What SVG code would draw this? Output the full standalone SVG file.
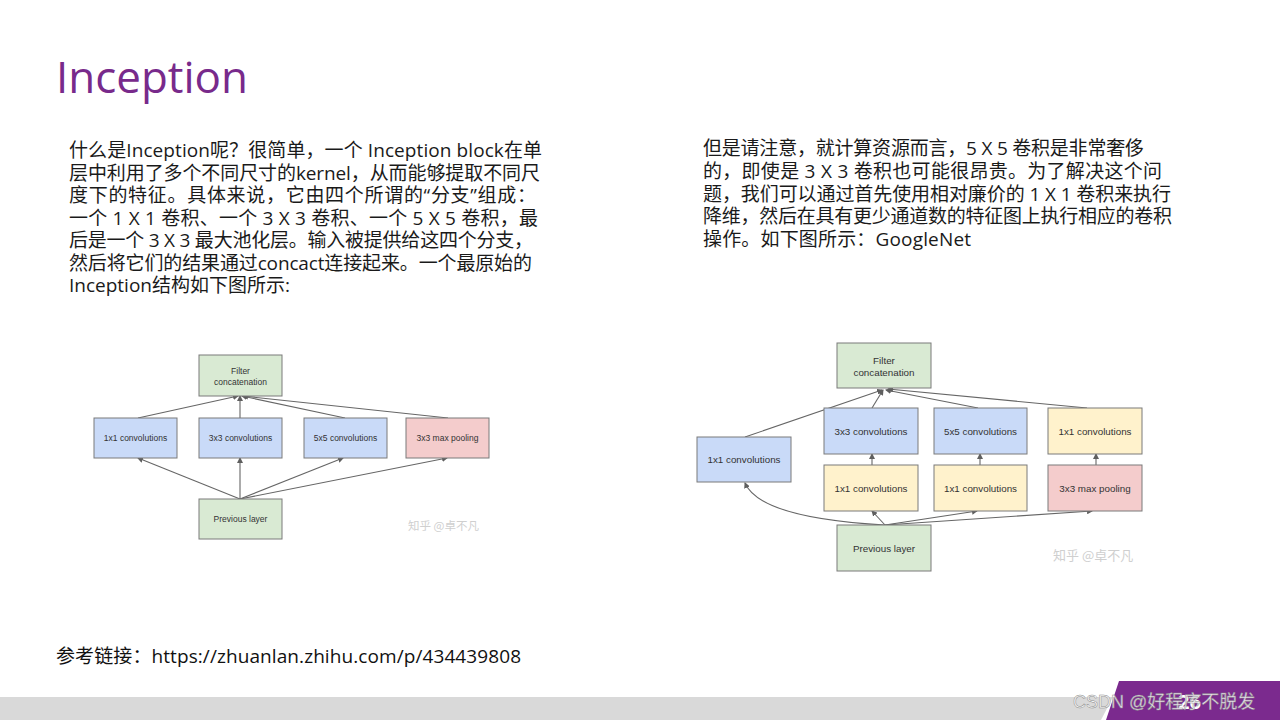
<svg xmlns="http://www.w3.org/2000/svg" width="1280" height="720" viewBox="0 0 1280 720">
<defs>
<marker id="ah" markerWidth="6" markerHeight="6" refX="5" refY="3" orient="auto" markerUnits="userSpaceOnUse">
<path d="M0,0 L6,3 L0,6 Z" fill="#5f5f5f"/>
</marker>
<style>
.body{font-family:"Open Sans","Noto Sans CJK SC",sans-serif;font-size:19px;fill:#1a1a1a}
.box{stroke:#7a7a7a;stroke-width:1}
.blue{fill:#c9daf8}
.green{fill:#d9ead3}
.yellow{fill:#fff2cc}
.red{fill:#f4cccc}
.lt{font-family:"Liberation Sans",Arial,sans-serif;font-size:8.5px;fill:#333;text-anchor:middle}
.rt{font-family:"Liberation Sans",Arial,sans-serif;font-size:9.8px;fill:#333;text-anchor:middle}
.wm{font-family:"Noto Sans CJK SC",sans-serif;fill:#cfcfcf}
.conn{stroke:#666;stroke-width:1.1;fill:none;marker-end:url(#ah)}
</style>
</defs>
<rect width="1280" height="720" fill="#fff"/>
<text x="56" y="93" font-family="Open Sans,Noto Sans,sans-serif" font-size="44" fill="#782a8b" textLength="192" lengthAdjust="spacingAndGlyphs">Inception</text>

<g id="left-text" class="body">
<text x="69" y="157" textLength="473">什么是Inception呢？很简单，一个 Inception block在单</text>
<text x="69" y="180" textLength="471">层中利用了多个不同尺寸的kernel，从而能够提取不同尺</text>
<text x="69" y="202" textLength="467">度下的特征。具体来说，它由四个所谓的“分支”组成：</text>
<text x="69" y="225" textLength="469">一个 1 X 1 卷积、一个 3 X 3 卷积、一个 5 X 5 卷积，最</text>
<text x="69" y="247" textLength="464">后是一个 3 X 3 最大池化层。输入被提供给这四个分支，</text>
<text x="69" y="270" textLength="463">然后将它们的结果通过concact连接起来。一个最原始的</text>
<text x="69" y="292" textLength="221">Inception结构如下图所示:</text>
</g>

<g id="right-text" class="body">
<text x="703" y="155" textLength="441">但是请注意，就计算资源而言，5 X 5 卷积是非常奢侈</text>
<text x="703" y="178" textLength="459">的，即使是 3 X 3 卷积也可能很昂贵。为了解决这个问</text>
<text x="703" y="201" textLength="468">题，我们可以通过首先使用相对廉价的 1 X 1 卷积来执行</text>
<text x="703" y="223" textLength="469">降维，然后在具有更少通道数的特征图上执行相应的卷积</text>
<text x="703" y="246" textLength="268">操作。如下图所示：GoogleNet</text>
</g>

<!-- Left diagram -->
<g id="l-connectors">
<line class="conn" x1="138" y1="418" x2="238" y2="396"/>
<line class="conn" x1="240" y1="418" x2="240" y2="396"/>
<line class="conn" x1="345" y1="418" x2="242" y2="396"/>
<line class="conn" x1="448" y1="418" x2="243" y2="396"/>
<line class="conn" x1="240" y1="499" x2="138" y2="458"/>
<line class="conn" x1="240" y1="499" x2="240" y2="458"/>
<line class="conn" x1="240" y1="499" x2="343" y2="458"/>
<line class="conn" x1="240" y1="499" x2="447" y2="458"/>
</g>
<g id="l-filter-concat"><rect class="box green" x="199" y="355" width="83" height="41"/><text class="lt" x="240.5" y="374">Filter</text><text class="lt" x="240.5" y="385">concatenation</text></g>
<g id="l-conv1"><rect class="box blue" x="94" y="418" width="83" height="40"/><text class="lt" x="135.5" y="441">1x1 convolutions</text></g>
<g id="l-conv3"><rect class="box blue" x="199" y="418" width="83" height="40"/><text class="lt" x="240.5" y="441">3x3 convolutions</text></g>
<g id="l-conv5"><rect class="box blue" x="304" y="418" width="83" height="40"/><text class="lt" x="345.5" y="441">5x5 convolutions</text></g>
<g id="l-pool"><rect class="box red" x="406" y="418" width="83" height="40"/><text class="lt" x="447.5" y="441">3x3 max pooling</text></g>
<g id="l-prev"><rect class="box green" x="199" y="499" width="83" height="40"/><text class="lt" x="240.5" y="522">Previous layer</text></g>
<text class="wm" x="408" y="530" font-size="11.5">知乎 @卓不凡</text>

<!-- Right diagram -->
<g id="r-connectors">
<line class="conn" x1="745" y1="437" x2="882" y2="390"/>
<line class="conn" x1="872" y1="408" x2="883" y2="390"/>
<line class="conn" x1="978" y1="408" x2="886" y2="390"/>
<line class="conn" x1="1087" y1="408" x2="888" y2="389"/>
<line class="conn" x1="872" y1="465" x2="872" y2="454"/>
<line class="conn" x1="980" y1="465" x2="980" y2="454"/>
<line class="conn" x1="1096" y1="465" x2="1096" y2="454"/>
<path class="conn" d="M885,525 Q760,518 745,483"/>
<line class="conn" x1="885" y1="525" x2="872" y2="511"/>
<line class="conn" x1="885" y1="525" x2="977" y2="511"/>
<line class="conn" x1="885" y1="525" x2="1092" y2="511"/>
</g>
<g id="r-filter-concat"><rect class="box green" x="837" y="343" width="94" height="45"/><text class="rt" x="884" y="364">Filter</text><text class="rt" x="884" y="376">concatenation</text></g>
<g id="r-conv1"><rect class="box blue" x="697" y="437" width="94" height="45"/><text class="rt" x="744" y="463">1x1 convolutions</text></g>
<g id="r-conv3"><rect class="box blue" x="824" y="408" width="94" height="46"/><text class="rt" x="871" y="435">3x3 convolutions</text></g>
<g id="r-conv5"><rect class="box blue" x="934" y="408" width="93" height="46"/><text class="rt" x="980.5" y="435">5x5 convolutions</text></g>
<g id="r-conv1-pool"><rect class="box yellow" x="1048" y="408" width="94" height="46"/><text class="rt" x="1095" y="435">1x1 convolutions</text></g>
<g id="r-reduce3"><rect class="box yellow" x="824" y="465" width="94" height="46"/><text class="rt" x="871" y="492">1x1 convolutions</text></g>
<g id="r-reduce5"><rect class="box yellow" x="934" y="465" width="93" height="46"/><text class="rt" x="980.5" y="492">1x1 convolutions</text></g>
<g id="r-pool"><rect class="box red" x="1048" y="465" width="94" height="46"/><text class="rt" x="1095" y="492">3x3 max pooling</text></g>
<g id="r-prev"><rect class="box green" x="837" y="525" width="94" height="46"/><text class="rt" x="884" y="552">Previous layer</text></g>
<text class="wm" x="1053" y="560" font-size="13">知乎 @卓不凡</text>

<text x="56" y="663" font-family="Open Sans,Noto Sans CJK SC,sans-serif" font-size="19" fill="#111" textLength="465">参考链接：https://zhuanlan.zhihu.com/p/434439808</text>

<!-- footer -->
<polygon points="0,697 1113,697 1101,720 0,720" fill="#d9d9d9"/>
<polygon points="1119,681 1280,681 1280,720 1106,720" fill="#7b2a8e"/>
<text x="1178" y="709" font-family="Open Sans,sans-serif" font-size="20" font-weight="bold" fill="#fff">26</text>
<text x="1073" y="708" font-family="Liberation Sans,Noto Sans CJK SC,sans-serif" font-size="18" fill="#fff" fill-opacity="0.85" stroke="#8a8a8a" stroke-width="0.5">CSDN @好程序不脱发</text>
</svg>
